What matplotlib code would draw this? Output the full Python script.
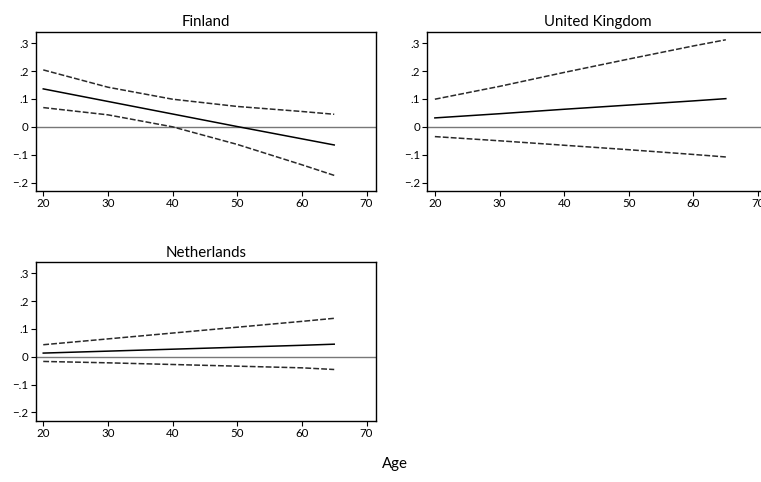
import matplotlib.pyplot as plt

plt.rcParams['font.family'] = ['Lato', 'DejaVu Sans']

age = [20, 30, 40, 50, 60, 65]

# Finland
fi_est = [0.136, 0.091, 0.046, 0.001, -0.043, -0.065]
fi_hi = [0.204, 0.142, 0.099, 0.073, 0.055, 0.045]
fi_lo = [0.069, 0.043, 0.000, -0.063, -0.136, -0.174]

# United Kingdom
uk_est = [0.032, 0.047, 0.063, 0.078, 0.093, 0.101]
uk_hi = [0.099, 0.145, 0.195, 0.243, 0.290, 0.312]
uk_lo = [-0.035, -0.050, -0.066, -0.082, -0.099, -0.108]

# Netherlands
nl_est = [0.013, 0.020, 0.027, 0.034, 0.041, 0.045]
nl_hi = [0.043, 0.064, 0.085, 0.106, 0.127, 0.138]
nl_lo = [-0.017, -0.022, -0.028, -0.034, -0.040, -0.046]

yticks = [-0.2, -0.1, 0, 0.1, 0.2, 0.3]
ylabels = ['\u2212.2', '\u2212.1', '0', '.1', '.2', '.3']
xticks = [20, 30, 40, 50, 60, 70]

fig = plt.figure(figsize=(7.61, 4.82), dpi=100)

panels = [
    ('Finland', fi_est, fi_hi, fi_lo, [0.0469, 0.6037, 0.447, 0.330]),
    ('United Kingdom', uk_est, uk_hi, uk_lo, [0.5615, 0.6037, 0.447, 0.330]),
    ('Netherlands', nl_est, nl_hi, nl_lo, [0.0469, 0.1272, 0.447, 0.329]),
]

dash = (0, (3.8, 1.4))

for title, est, hi, lo, pos in panels:
    ax = fig.add_axes(pos)
    ax.axhline(0, color='#777777', lw=1.0, zorder=1)
    ax.plot(age, est, color='black', lw=1.1)
    ax.plot(age, hi, color='#2a2a2a', lw=1.1, ls=dash)
    ax.plot(age, lo, color='#2a2a2a', lw=1.1, ls=dash)
    ax.set_xlim(18.83, 71.44)
    ax.set_ylim(-0.23, 0.34)
    ax.set_xticks(xticks)
    ax.set_yticks(yticks)
    ax.set_yticklabels(ylabels)
    ax.tick_params(labelsize=8.3, length=3.5, width=0.8, pad=1.5)
    for s in ax.spines.values():
        s.set_linewidth(1.0)
    ax.set_title(title, fontsize=10.8, pad=4)

fig.text(0.519, 0.022, 'Age', ha='center', va='bottom', fontsize=10.8)

fig.savefig('out.png', dpi=100)
